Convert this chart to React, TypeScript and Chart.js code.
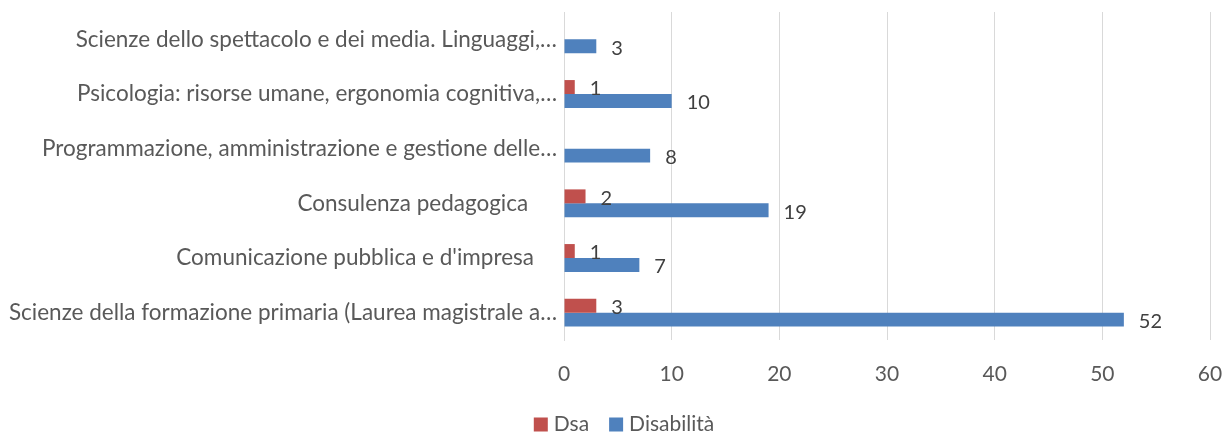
import React, { useEffect, useRef } from "react";
import { Chart, registerables } from "chart.js";

Chart.register(...registerables);

const categories = [
  "Scienze dello spettacolo e dei media. Linguaggi,…",
  "Psicologia: risorse umane, ergonomia cognitiva,…",
  "Programmazione, amministrazione e gestione delle…",
  "Consulenza pedagogica     ",
  "Comunicazione pubblica e d'impresa    ",
  "Scienze della formazione primaria (Laurea magistrale a…",
];
const dsaValues: (number | null)[] = [null, 1, null, 2, 1, 3];
const disabilitaValues: (number | null)[] = [3, 10, 8, 19, 7, 52];
const xTicks = [0, 10, 20, 30, 40, 50, 60];
const seriesNames = ["Dsa", "Disabilità"];
const seriesColors = ["#C0504D", "#4F81BD"];

const FONT = "Lato";
const TEXT = "#595959";

const labelPlugin = {
  id: "barLabels",
  afterDatasetsDraw(chart: any) {
    const ctx = chart.ctx;
    ctx.save();
    ctx.font = `20px ${FONT}`;
    ctx.fillStyle = "#404040";
    ctx.textAlign = "left";
    ctx.textBaseline = "middle";
    chart.data.datasets.forEach((ds: any, di: number) => {
      const meta = chart.getDatasetMeta(di);
      meta.data.forEach((el: any, i: number) => {
        const v = ds.data[i];
        if (v === null || v === undefined) return;
        ctx.fillText(String(v), el.x + 15, el.y + 2);
      });
    });
    ctx.restore();
  },
};

const legendPlugin = {
  id: "customLegend",
  afterDraw(chart: any) {
    const ctx = chart.ctx;
    ctx.save();
    ctx.font = `21px ${FONT}`;
    ctx.textBaseline = "middle";
    ctx.textAlign = "left";
    const box = 14;
    const gap = 6;
    const itemGap = 20;
    const widths = seriesNames.map((n) => ctx.measureText(n).width);
    const total =
      widths.reduce((a: number, w: number) => a + box + gap + w, 0) + itemGap * (seriesNames.length - 1);
    let x = 624 - total / 2;
    const cy = 424.5;
    seriesNames.forEach((n, i) => {
      ctx.fillStyle = seriesColors[i];
      ctx.fillRect(x, cy - box / 2, box, box);
      ctx.fillStyle = TEXT;
      ctx.fillText(n, x + box + gap, cy);
      x += box + gap + widths[i] + itemGap;
    });
    ctx.restore();
  },
};

export default function App() {
  const ref = useRef<HTMLCanvasElement>(null);
  useEffect(() => {
    document.body.style.margin = "0";
    const chart = new Chart(ref.current!, {
      type: "bar",
      data: {
        labels: categories,
        datasets: seriesNames.map((name, i) => ({
          label: name,
          data: i === 0 ? dsaValues : disabilitaValues,
          backgroundColor: seriesColors[i],
          categoryPercentage: 0.51,
          barPercentage: 1,
        })),
      },
      options: {
        indexAxis: "y",
        animation: false,
        responsive: false,
        layout: { padding: { top: 12, right: 22, left: 0, bottom: 0 } },
        scales: {
          x: {
            min: 0,
            max: 60,
            afterBuildTicks(scale: any) {
              scale.ticks = xTicks.map((v) => ({ value: v }));
            },
            afterFit(scale: any) {
              scale.height = 96;
              scale.paddingLeft = 0;
              scale.paddingRight = 0;
            },
            grid: { color: "#D9D9D9", lineWidth: 1, drawTicks: false },
            border: { display: false },
            ticks: {
              padding: 22,
              color: TEXT,
              font: { family: FONT, size: 21 },
            },
          },
          y: {
            afterFit(scale: any) {
              scale.width = 564;
              scale.paddingTop = 0;
              scale.paddingBottom = 0;
            },
            grid: { display: false, drawTicks: false },
            border: { display: true, color: "#D9D9D9" },
            ticks: {
              padding: 7,
              color: TEXT,
              font: { family: FONT, size: 22.5 },
            },
          },
        },
        plugins: {
          legend: { display: false },
          tooltip: { enabled: false },
        },
      },
      plugins: [labelPlugin, legendPlugin],
    });
    return () => chart.destroy();
  }, []);
  return <canvas ref={ref} width={1232} height={436} style={{ display: "block" }} />;
}
